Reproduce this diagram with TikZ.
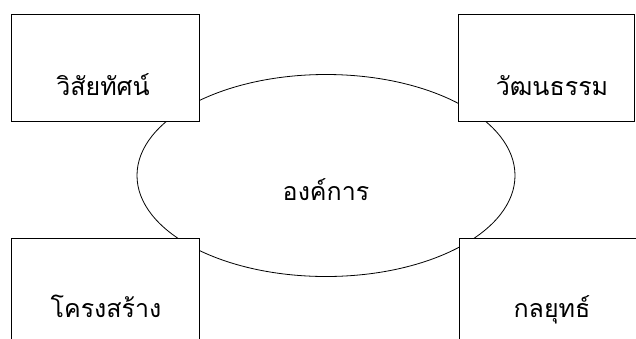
\documentclass[tikz,border=0pt]{standalone}
\usepackage{fontspec}
\newfontfamily\thaifont[Script=Thai]{Loma}
\usetikzlibrary{shapes.geometric}
\begin{document}
\begin{tikzpicture}[x=1pt,y=-1pt,
  boxstyle/.style={draw=black,line width=0.9pt,fill=white,rectangle,inner sep=0pt},
  ovalstyle/.style={draw=black,line width=0.8pt,ellipse,inner sep=0pt,minimum width=378pt,minimum height=202pt},
  labelstyle/.style={font=\thaifont\fontsize{25}{30}\selectfont,anchor=base,inner sep=0pt}]
\useasboundingbox (0,0) rectangle (636,338);
\clip (0,0) rectangle (636,338);
\node[ovalstyle] (org) at (326,175.5) {};
\node[boxstyle,minimum width=188pt,minimum height=107pt] (vision) at (105,67.5) {};
\node[boxstyle,minimum width=176pt,minimum height=107pt] (culture) at (546,67.5) {};
\node[boxstyle,minimum width=188pt,minimum height=140pt] (struct) at (105,308) {};
\node[boxstyle,minimum width=200pt,minimum height=140pt] (strat) at (559,308) {};
\node[labelstyle] (tvision) at (103,95) {วิสัยทัศน์};
\node[labelstyle] (tculture) at (552,95) {วัฒนธรรม};
\node[labelstyle] (torg) at (326,200) {องค์การ};
\node[labelstyle] (tstruct) at (106,317) {โครงสร้าง};
\node[labelstyle] (tstrat) at (552,317) {กลยุทธ์};
\end{tikzpicture}
\end{document}
